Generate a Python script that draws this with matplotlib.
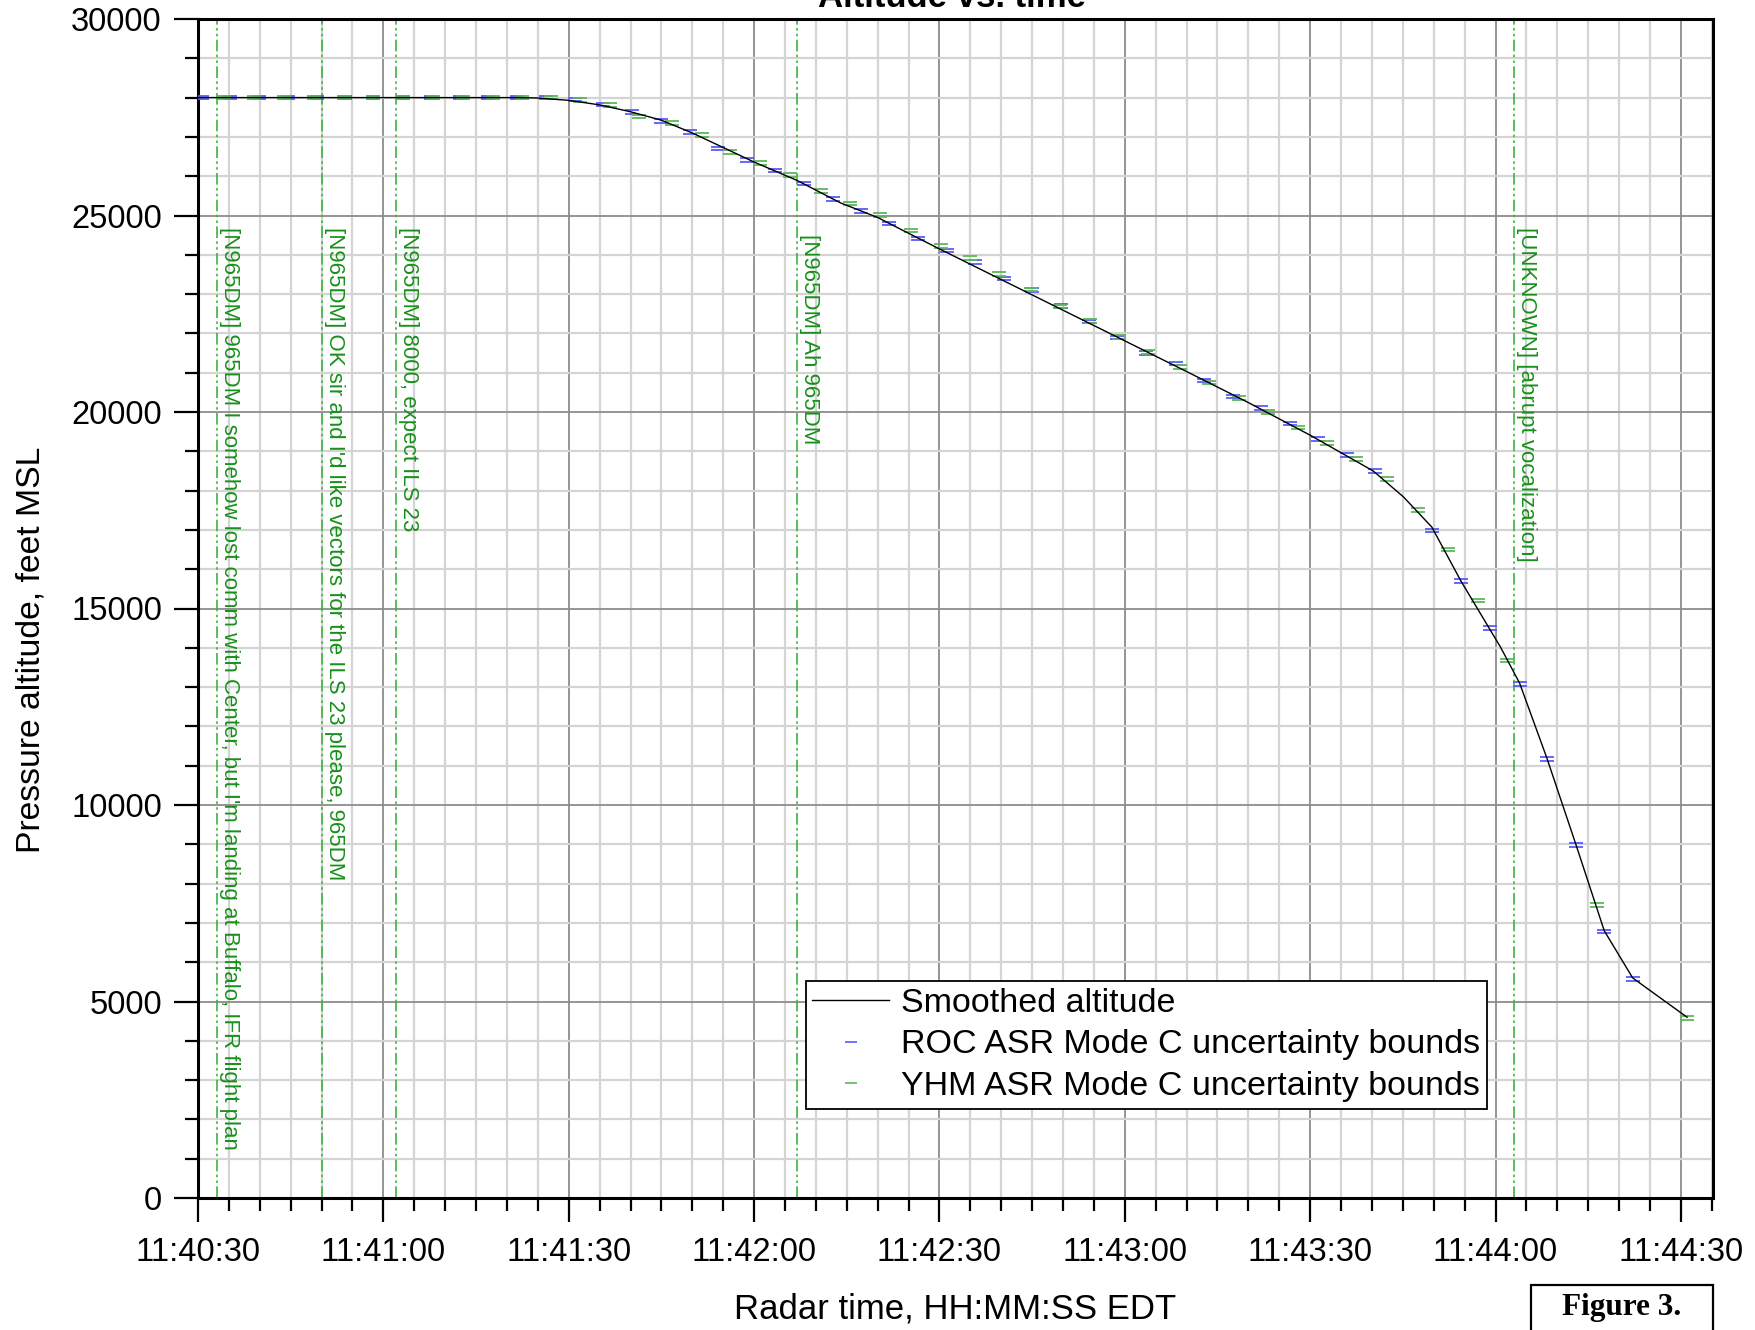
import numpy as np
import matplotlib
matplotlib.use("Agg")
import matplotlib.pyplot as plt
from matplotlib.ticker import MultipleLocator, FuncFormatter
from matplotlib.patches import Rectangle

plt.rcParams['font.family'] = ['Liberation Sans', 'DejaVu Sans']

# seconds after 11:40:30
smooth_t = [0, 52, 55, 60, 65, 70, 75, 80, 85, 90, 97, 104, 110, 113.6, 120, 130,
            140, 150, 160, 170, 180, 190.2, 195.1, 199.7, 204.4, 210.8, 213.9,
            218.3, 223.0, 227.6, 232.2, 241.0]
smooth_alt = [28000, 28000, 27990, 27930, 27815, 27640, 27425, 27100, 26730, 26360,
              25890, 25320, 24950, 24660, 24150, 23370, 22590, 21810, 21030, 20240,
              19410, 18500, 17840, 17070, 15700, 14020, 13100, 11200, 9000, 6800,
              5600, 4600]

roc_t = [0.6, 5.2, 9.9, 14.5, 19.2, 23.8, 28.4, 33.1, 37.7, 42.4, 47.0, 51.7, 56.3,
         61.0, 65.6, 70.3, 74.9, 79.6, 84.2, 88.8, 93.4, 98.0, 102.7, 107.3, 111.8,
         116.6, 121.2, 125.8, 130.4, 135.0, 139.6, 144.2, 148.8, 153.4, 158.3, 162.9,
         167.5, 172.0, 176.8, 181.3, 185.9, 190.5, 199.8, 204.4, 209.1, 213.9, 218.3,
         223.0, 227.6, 232.2]
roc_alt = [28000, 28000, 28000, 28000, 28000, 28000, 28000, 28000, 28000, 28000, 28000,
           28000, 28000, 27950, 27830, 27640, 27410, 27130, 26710, 26410, 26140, 25820,
           25420, 25110, 24800, 24420, 24110, 23810, 23400, 23100, 22700, 22300, 21900,
           21500, 21230, 20800, 20400, 20100, 19710, 19310, 18900, 18500, 16990, 15700,
           14500, 13080, 11170, 8980, 6780, 5570]

yhm_t = [4.2, 9.0, 13.9, 18.7, 23.6, 28.4, 33.2, 38.0, 42.9, 47.7, 52.4, 57.1, 61.8,
         66.7, 71.4, 76.7, 81.5, 86.1, 91.0, 95.8, 100.8, 105.6, 110.4, 115.4, 120.2,
         125.0, 129.7, 134.8, 139.5, 144.3, 149.1, 153.8, 158.9, 163.7, 168.5, 173.2,
         178.1, 182.8, 187.5, 192.5, 197.4, 202.3, 207.1, 211.9, 226.4, 241.0]
yhm_alt = [28000, 28000, 28000, 28000, 28000, 28000, 28000, 28000, 28000, 28000, 28000,
           28000, 27940, 27810, 27520, 27350, 27050, 26620, 26340, 26030, 25630, 25310,
           25010, 24620, 24220, 23920, 23510, 23120, 22690, 22320, 21910, 21530, 21150,
           20750, 20350, 20000, 19600, 19210, 18800, 18300, 17500, 16500, 15200, 13680,
           7460, 4580]

bound = 45  # half width of the Mode C uncertainty band, ft

event_t = [3, 20, 32, 97, 213]
event_y = [24720, 24720, 24720, 24520, 24720]
event_txt = [
    "[N965DM] 965DM I somehow lost comm with Center, but I'm landing at Buffalo, IFR flight plan",
    "[N965DM] OK sir and I'd like vectors for the ILS 23 please, 965DM",
    "[N965DM] 8000, expect ILS 23",
    "[N965DM] Ah 965DM",
    "[UNKNOWN] [abrupt vocalization]",
]

start = 11 * 3600 + 40 * 60 + 30


def hms(v, pos=None):
    s = int(round(start + v))
    return "%d:%02d:%02d" % (s // 3600, (s // 60) % 60, s % 60)


fig = plt.figure(figsize=(17.56, 13.30), dpi=100)
ax = fig.add_axes([198 / 1756, 1 - 1198 / 1330, 1515 / 1756, 1179 / 1330])

roc_t = np.array(roc_t)
roc_alt = np.array(roc_alt)
yhm_t = np.array(yhm_t)
yhm_alt = np.array(yhm_alt)

blue = '#5a5aff'
green = '#5cb85c'
mk = dict(marker='_', linestyle='none', markersize=10, markeredgewidth=1.3)
ax.plot(roc_t, roc_alt + bound, color=blue, zorder=3, **mk)
ax.plot(roc_t, roc_alt - bound, color=blue, zorder=3, **mk)
ax.plot(yhm_t, yhm_alt + bound, color=green, zorder=3, **mk)
ax.plot(yhm_t, yhm_alt - bound, color=green, zorder=3, **mk)
ax.plot(smooth_t, smooth_alt, color='black', lw=1.0, zorder=4)

for t, y, s in zip(event_t, event_y, event_txt):
    ax.axvline(t, color='#3cb43c', lw=1.2, dashes=(7, 2, 1.5, 2, 1.5, 2), zorder=2)
    ax.text(t + 0.35, y, s, rotation=270, ha='left', va='top', fontsize=16.0,
            color='#18901a', zorder=5)

ax.set_xlim(0, 245.2)
ax.set_ylim(0, 30000)
ax.xaxis.set_major_locator(MultipleLocator(30))
ax.xaxis.set_minor_locator(MultipleLocator(5))
ax.xaxis.set_major_formatter(FuncFormatter(hms))
ax.yaxis.set_major_locator(MultipleLocator(5000))
ax.yaxis.set_minor_locator(MultipleLocator(1000))

ax.grid(which='major', color='#8c8c8c', lw=1.3, zorder=0)
ax.grid(which='minor', color='#d4d4d4', lw=1.6, zorder=0)
ax.set_axisbelow(True)

for sp in ax.spines.values():
    sp.set_linewidth(2.2)
ax.tick_params(which='major', direction='out', length=17, width=1.6, labelsize=23.5)
ax.tick_params(which='minor', direction='out', length=9.5, width=1.6)
ax.tick_params(axis='x', which='major', pad=11)
ax.tick_params(axis='y', which='major', pad=9)

ax.set_xlabel("Radar time, HH:MM:SS EDT", fontsize=25, labelpad=18)
ax.set_ylabel("Pressure altitude, feet MSL", fontsize=24.3)
ax.yaxis.set_label_coords(-0.110, 0.465)
ax.yaxis.label.set_va('center')

fig.text(952 / 1756, 1 - 7 / 1330, "Altitude vs. time", ha='center', va='baseline',
         fontsize=25, fontweight='bold')

h1, = ax.plot([], [], color='black', lw=1.0)
h2, = ax.plot([], [], color=blue, marker='_', linestyle='none', markersize=8, markeredgewidth=1.2)
h3, = ax.plot([], [], color=green, marker='_', linestyle='none', markersize=8, markeredgewidth=1.2)
leg = ax.legend([h1, h2, h3],
                ["Smoothed altitude", "ROC ASR Mode C uncertainty bounds",
                 "YHM ASR Mode C uncertainty bounds"],
                loc='upper left', bbox_to_anchor=(0.401, 0.184), borderaxespad=0,
                fontsize=24.5, fancybox=False, framealpha=1, edgecolor='black',
                handlelength=2.25, handletextpad=0.35, labelspacing=0.31,
                borderpad=0.2, numpoints=1)
leg.get_frame().set_linewidth(1.3)
leg.set_zorder(6)

fig.patches.append(Rectangle((1531 / 1756, -0.02), 182 / 1756, 0.02 + 1 - 1285 / 1330,
                             transform=fig.transFigure, fill=False, lw=1.6,
                             edgecolor='black'))
fig.text(1622 / 1756, 1 - 1308 / 1330, "Figure 3.", ha='center', va='center',
         fontsize=22.5, fontweight='bold', family='Liberation Serif')

fig.savefig("out.png", dpi=100)
